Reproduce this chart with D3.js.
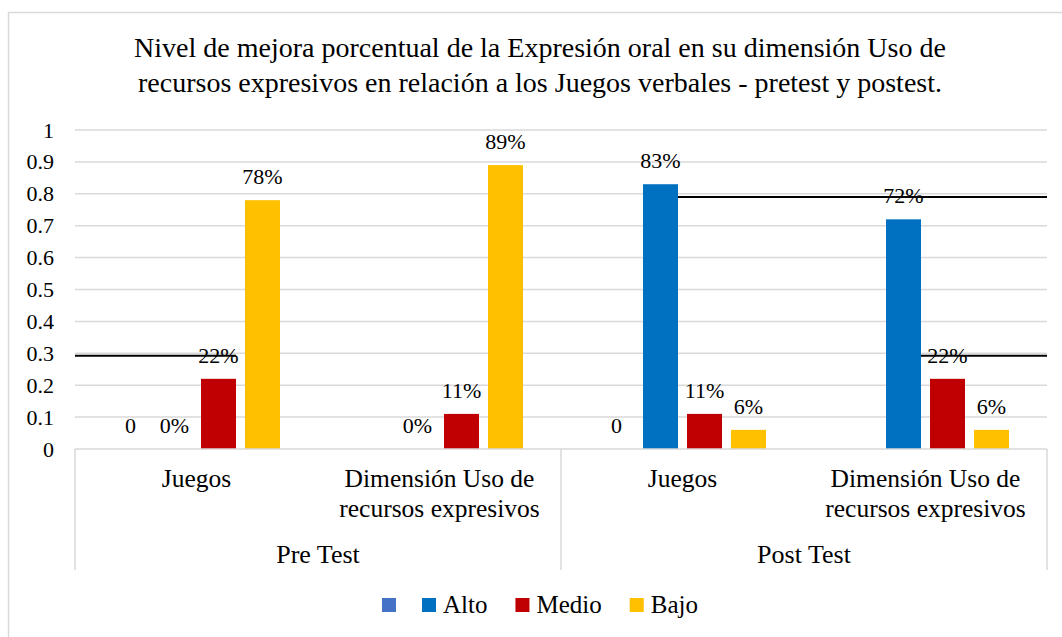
<!DOCTYPE html>
<html lang="es">
<head>
<meta charset="utf-8">
<title>Nivel de mejora porcentual</title>
<script src="https://cdn.jsdelivr.net/npm/d3@7"></script>
<style>
body { margin: 0; background: #fff; }
svg text { font-family: "Liberation Serif", "Times New Roman", serif; fill: #000; }
</style>
</head>
<body>
<div id="chart"></div>
<script>
// data
var phases = ["Pre Test", "Post Test"];
var subCategories = ["Juegos", "Dimensión Uso de recursos expresivos"];
var subLabelLines = [["Juegos"], ["Dimensión Uso de", "recursos expresivos"]];
var seriesNames = ["", "Alto", "Medio", "Bajo"];
var seriesColors = ["#4472C4", "#0070C0", "#C00000", "#FFC000"];

// one value per category: Pre/Juegos, Pre/Dimensión, Post/Juegos, Post/Dimensión
var serieSinNombre = [0, null, 0, null];
var alto = [0, 0, 0.83, 0.72];
var medio = [0.22, 0.11, 0.11, 0.22];
var bajo = [0.78, 0.89, 0.06, 0.06];
var seriesValues = [serieSinNombre, alto, medio, bajo];

var yTicks = [0, 0.1, 0.2, 0.3, 0.4, 0.5, 0.6, 0.7, 0.8, 0.9, 1];

// the stray black lines of the original picture
// cat/series give the bar edge where a segment starts or stops, null = plot edge
var refLines = [
    { value: 0.292, fromCat: null, fromSeries: null, toCat: 0, toSeries: "Medio" },
    { value: 0.79, fromCat: 2, fromSeries: "Alto", toCat: null, toSeries: null },
    { value: 0.292, fromCat: 3, fromSeries: "Alto", toCat: null, toSeries: null }
];

var titleLines = [
    "Nivel de mejora porcentual de la Expresión oral en su dimensión Uso de",
    "recursos expresivos en relación a los Juegos verbales - pretest y postest."
];

var width = 1062, height = 637;
var plotLeft = 75, plotRight = 1047, plotTop = 130, plotBottom = 449;

var categories = [];
phases.forEach(function (p) {
    subCategories.forEach(function (s) { categories.push(p + "|" + s); });
});

var svg = d3.select("#chart").append("svg")
    .attr("width", width)
    .attr("height", height);

// chart border
svg.append("rect")
    .attr("x", 8.5).attr("y", 12.5)
    .attr("width", width + 20).attr("height", height + 20)
    .attr("fill", "none")
    .attr("stroke", "#D9D9D9")
    .attr("stroke-width", 1.5);

// title
svg.append("g").selectAll("text")
    .data(titleLines)
    .join("text")
    .attr("x", 540)
    .attr("y", function (d, i) { return 57 + i * 35; })
    .attr("text-anchor", "middle")
    .style("font-size", "28px")
    .text(function (d) { return d; });

var x0 = d3.scaleBand().domain(categories).range([plotLeft, plotRight]);
var x1 = d3.scaleBand().domain(seriesNames)
    .range([0, x0.bandwidth()])
    .paddingInner(0.2045)
    .paddingOuter(0.864);
var y = d3.scaleLinear().domain([0, 1]).range([plotBottom, plotTop]);

// gridlines
svg.append("g").selectAll("line")
    .data(yTicks.slice(1))
    .join("line")
    .attr("x1", plotLeft).attr("x2", plotRight)
    .attr("y1", function (d) { return y(d); })
    .attr("y2", function (d) { return y(d); })
    .attr("stroke", "#D9D9D9")
    .attr("stroke-width", 1.5);

// y axis labels
var yAxis = svg.append("g")
    .attr("transform", "translate(" + (plotLeft - 7) + ",0)")
    .call(d3.axisLeft(y).tickValues(yTicks).tickSize(0).tickPadding(14).tickFormat(d3.format("")));
yAxis.select(".domain").remove();
yAxis.selectAll("text")
    .style("font-size", "22px")
    .style("font-family", "Liberation Serif, serif");

// bars
var rows = [];
seriesValues.forEach(function (vals, si) {
    vals.forEach(function (v, ci) {
        if (v !== null) rows.push({ s: seriesNames[si], si: si, c: categories[ci], v: v });
    });
});

svg.append("g").selectAll("rect")
    .data(rows)
    .join("rect")
    .attr("x", function (d) { return x0(d.c) + x1(d.s); })
    .attr("y", function (d) { return y(d.v); })
    .attr("width", x1.bandwidth())
    .attr("height", function (d) { return y(0) - y(d.v); })
    .attr("fill", function (d) { return seriesColors[d.si]; });

// data labels
var pct = d3.format(".0%");
svg.append("g").selectAll("text")
    .data(rows)
    .join("text")
    .attr("x", function (d) { return x0(d.c) + x1(d.s) + x1.bandwidth() / 2; })
    .attr("y", function (d) { return y(d.v) - 16; })
    .attr("text-anchor", "middle")
    .style("font-size", "22px")
    .text(function (d) { return d.si === 0 ? String(d.v) : pct(d.v); });

// black lines
function edgeX(cat, ser, fallback) {
    if (cat === null) return fallback;
    return x0(categories[cat]) + x1(ser) + x1.bandwidth();
}
svg.append("g").selectAll("line")
    .data(refLines)
    .join("line")
    .attr("x1", function (d) { return edgeX(d.fromCat, d.fromSeries, plotLeft); })
    .attr("x2", function (d) { return edgeX(d.toCat, d.toSeries, plotRight); })
    .attr("y1", function (d) { return y(d.value); })
    .attr("y2", function (d) { return y(d.value); })
    .attr("stroke", "#000")
    .attr("stroke-width", 2);

// category axis
var axisG = svg.append("g").attr("stroke", "#D9D9D9").attr("stroke-width", 1.5);
axisG.append("line")
    .attr("x1", plotLeft).attr("x2", plotRight)
    .attr("y1", plotBottom).attr("y2", plotBottom);
var phaseScale = d3.scaleBand().domain(phases).range([plotLeft, plotRight]);
var sepX = [plotLeft].concat(phases.map(function (p) { return phaseScale(p) + phaseScale.bandwidth(); }));
axisG.selectAll("line.sep")
    .data(sepX)
    .join("line")
    .attr("class", "sep")
    .attr("x1", function (d) { return d; }).attr("x2", function (d) { return d; })
    .attr("y1", plotBottom).attr("y2", 570);

// sub category labels
var subG = svg.append("g").selectAll("text")
    .data(categories)
    .join("text")
    .attr("x", function (d) { return x0(d) + x0.bandwidth() / 2; })
    .attr("y", 487)
    .attr("text-anchor", "middle")
    .style("font-size", "25.5px");
subG.selectAll("tspan")
    .data(function (d) { return subLabelLines[subCategories.indexOf(d.split("|")[1])]; })
    .join("tspan")
    .attr("x", function () { var c = this.parentNode.__data__; return x0(c) + x0.bandwidth() / 2; })
    .attr("dy", function (d, i) { return i === 0 ? 0 : 30; })
    .text(function (d) { return d; });

// phase labels
svg.append("g").selectAll("text")
    .data(phases)
    .join("text")
    .attr("x", function (d) { return phaseScale(d) + phaseScale.bandwidth() / 2; })
    .attr("y", 563)
    .attr("text-anchor", "middle")
    .style("font-size", "26px")
    .text(function (d) { return d; });

// legend
var legend = svg.append("g");
var lx = 382;
seriesNames.forEach(function (name, i) {
    legend.append("rect")
        .attr("x", lx).attr("y", 598)
        .attr("width", 14).attr("height", 14)
        .attr("fill", seriesColors[i]);
    var t = legend.append("text")
        .attr("x", lx + 21)
        .attr("y", 613)
        .style("font-size", "25px")
        .text(name);
    var w = name ? t.node().getComputedTextLength() : 0;
    lx = lx + 21 + w + (name ? 28 : 19);
});
</script>
</body>
</html>
